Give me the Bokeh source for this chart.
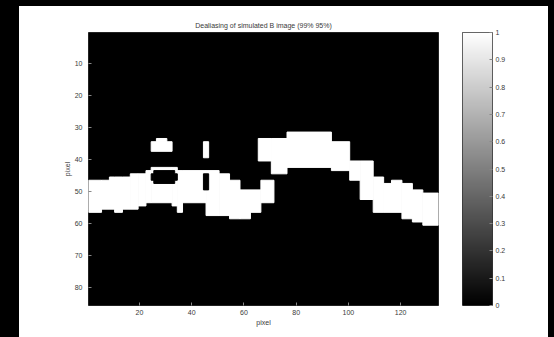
import numpy as np
from bokeh.plotting import figure
from bokeh.models import Range1d, LinearAxis, FixedTicker, LinearColorMapper, Row, Column
from bokeh.palettes import Greys256
from bokeh.embed import file_html
from bokeh.resources import INLINE

# ---------------- data (binary mask, 85 rows x 134 columns) ----------------
n_rows = 85
n_cols = 134
title = "Dealiasing of simulated B image (99% 95%)"
x_ticks = [20, 40, 60, 80, 100, 120]
y_ticks = [10, 20, 30, 40, 50, 60, 70, 80]
cbar_ticks = [0, 0.1, 0.2, 0.3, 0.4, 0.5, 0.6, 0.7, 0.8, 0.9, 1]

# left band: column where each step starts, first and last white row
band_start = [1, 6, 9, 11, 14, 17, 20, 23, 25, 33, 35, 37, 46, 51, 55, 59, 63, 67]
band_top   = [47, 47, 46, 46, 46, 45, 45, 44, 43, 43, 44, 44, 44, 45, 47, 50, 50, 47]
band_bot   = [56, 55, 55, 56, 55, 55, 54, 53, 53, 54, 56, 53, 57, 57, 58, 58, 56, 53]
band_end = 71

# hump (right band)
hump_start = [66, 71, 77, 94, 101, 105, 110, 114, 117, 121, 125, 129]
hump_top   = [34, 34, 32, 35, 41, 41, 46, 48, 47, 48, 50, 51]
hump_bot   = [40, 44, 42, 43, 46, 52, 56, 56, 56, 58, 59, 60]
hump_end = 134

# isolated white blobs: (first col, last col, first row, last row)
blob_c0 = [25, 27, 45]
blob_c1 = [32, 30, 46]
blob_r0 = [35, 34, 35]
blob_r1 = [37, 34, 39]

# black holes inside the band
hole_c0 = [26, 25, 34, 45]
hole_c1 = [33, 25, 34, 46]
hole_r0 = [44, 45, 45, 45]
hole_r1 = [47, 46, 46, 49]


def step_edges(starts, end):
    lefts = [s - 0.5 for s in starts]
    rights = [s - 0.5 for s in starts[1:]] + [end + 0.5]
    return lefts, rights


FONT = "Liberation Sans"
TXT = "#3a3a3a"

p = figure(width=431, height=331,
           x_range=Range1d(0.5, n_cols + 0.5), y_range=Range1d(n_rows + 0.5, 0.5),
           output_backend="svg", toolbar_location=None,
           min_border_left=69, min_border_right=12, min_border_top=25, min_border_bottom=32,
           background_fill_color="black", border_fill_color="white",
           title=title)
p.grid.visible = False
p.outline_line_color = "#222222"

l, r = step_edges(band_start, band_end)
p.quad(left=l, right=r, top=[t - 0.5 for t in band_top], bottom=[b + 0.5 for b in band_bot],
       color="white", line_color="white", line_width=1)
l, r = step_edges(hump_start, hump_end)
p.quad(left=l, right=r, top=[t - 0.5 for t in hump_top], bottom=[b + 0.5 for b in hump_bot],
       color="white", line_color="white", line_width=1)
p.quad(left=[c - 0.5 for c in blob_c0], right=[c + 0.5 for c in blob_c1],
       top=[v - 0.5 for v in blob_r0], bottom=[v + 0.5 for v in blob_r1],
       color="white", line_color="white", line_width=1)
p.quad(left=[c - 0.5 for c in hole_c0], right=[c + 0.5 for c in hole_c1],
       top=[v - 0.5 for v in hole_r0], bottom=[v + 0.5 for v in hole_r1],
       color="black", line_color="black", line_width=1)

p.title.align = "center"
p.title.text_font = FONT
p.title.text_font_size = "7px"
p.title.text_font_style = "normal"
p.title.text_color = TXT
p.title.standoff = 7

for ax, ticks in ((p.xaxis, x_ticks), (p.yaxis, y_ticks)):
    ax.ticker = FixedTicker(ticks=ticks)
    ax.major_tick_in = 3
    ax.major_tick_out = 0
    ax.minor_tick_line_color = None
    ax.axis_line_color = None
    ax.major_tick_line_color = "#888888"
    ax.major_label_text_font = FONT
    ax.major_label_text_font_size = "7px"
    ax.major_label_text_color = TXT
    ax.axis_label = "pixel"
    ax.axis_label_text_font = FONT
    ax.axis_label_text_font_size = "7px"
    ax.axis_label_text_font_style = "normal"
    ax.axis_label_text_color = TXT
p.xaxis.major_label_standoff = 4
p.xaxis.axis_label_standoff = 1
p.yaxis.major_label_standoff = 6
p.yaxis.axis_label_standoff = 1

# ---------------- colour bar ----------------
q = figure(width=98, height=331, x_range=Range1d(0, 1), y_range=Range1d(0, 1),
           output_backend="svg", toolbar_location=None,
           min_border_left=12, min_border_right=56, min_border_top=26, min_border_bottom=31,
           border_fill_color="white")
q.grid.visible = False
q.xaxis.visible = False
q.yaxis.visible = False
q.outline_line_color = "#333333"
mapper = LinearColorMapper(palette=Greys256, low=0, high=1)
grad = np.linspace(0, 1, 256).reshape(256, 1)
q.image(image=[grad], x=0, y=0, dw=1, dh=1, color_mapper=mapper)

ra = LinearAxis(ticker=FixedTicker(ticks=cbar_ticks))
ra.major_label_overrides = {t: ("%g" % t) for t in cbar_ticks}
ra.major_tick_in = 3
ra.major_tick_out = 0
ra.minor_tick_line_color = None
ra.axis_line_color = None
ra.major_tick_line_color = "#888888"
ra.major_label_text_font = FONT
ra.major_label_text_font_size = "7px"
ra.major_label_text_color = TXT
ra.major_label_standoff = 3
q.add_layout(ra, "right")

inner = Row(children=[p, q], width=529, height=331, spacing=0,
            styles={"background-color": "white"})
inner.margin = (6, 6, 0, 19)
outer = Column(children=[inner], width=554, height=337, spacing=0,
               styles={"background-color": "black"})

html = file_html(outer, INLINE)
html = html.replace("</head>",
                    "<style>html,body{margin:0;padding:0;background:#000;}</style></head>", 1)
open("out.html", "w").write(html)
